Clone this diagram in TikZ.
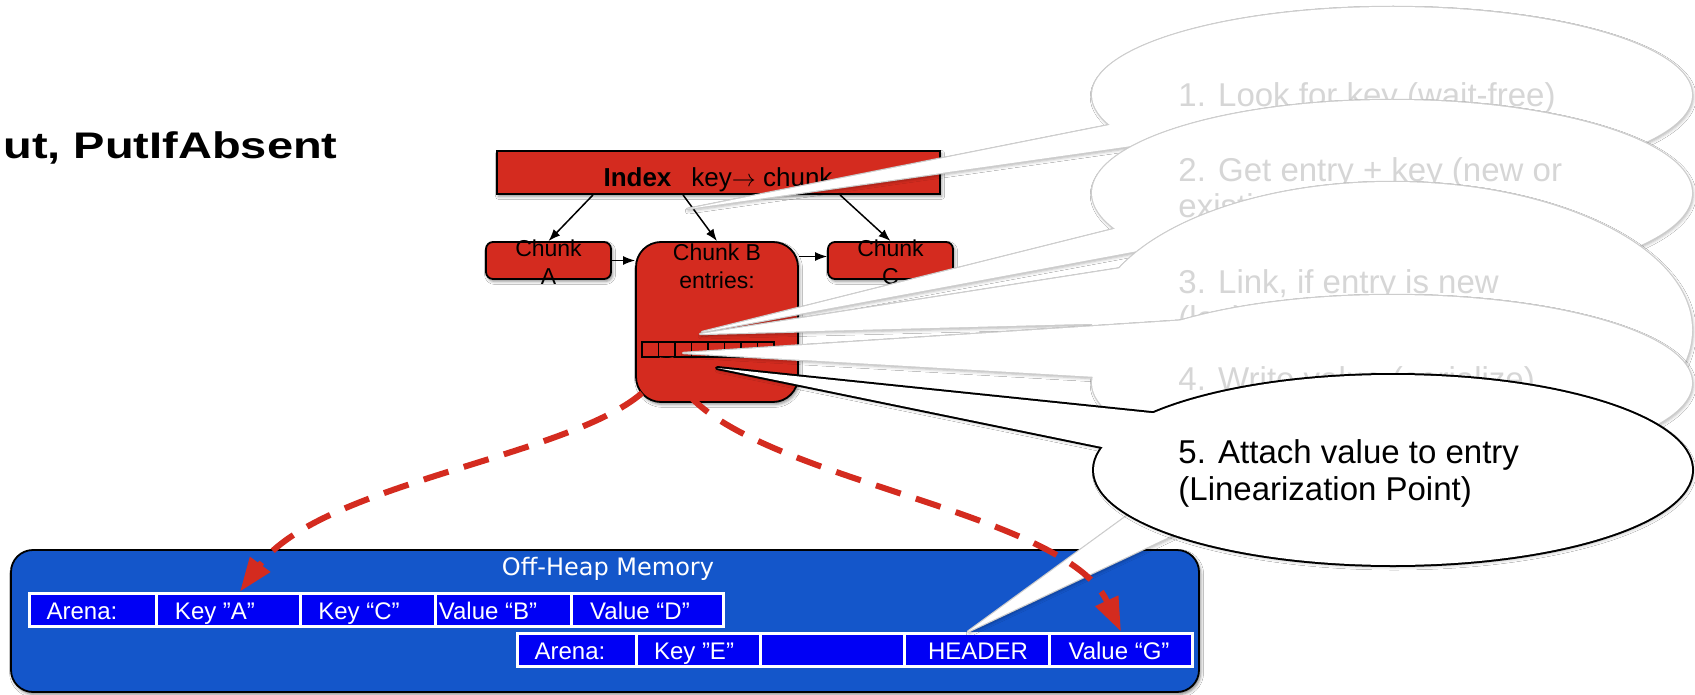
\documentclass[tikz,border=0pt]{standalone}
\usepackage{fontspec}
\usepackage{graphicx}
\setmainfont{Liberation Sans}
\newfontfamily\heapfont{DejaVu Sans}
\usetikzlibrary{arrows.meta,shadows.blur}

\definecolor{chunkred}{RGB}{212,43,31}
\definecolor{heapblue}{RGB}{20,86,202}
\definecolor{cellblue}{RGB}{0,0,245}
\definecolor{fadetext}{RGB}{214,214,214}
\definecolor{fadeline}{RGB}{205,205,205}

% speech balloon: outline style, centre, x radius, y radius, tail tip, two tail base points
\newcommand\calloutballoon[7]{%
  \path[balloonshadow] #2 ellipse [x radius=#3, y radius=#4];
  \path[balloonshadow] #5 -- #6 -- #7 -- cycle;
  \draw[#1, line join=round] #2 ellipse [x radius=#3, y radius=#4];
  \draw[#1, line join=round] #5 -- #6 -- #7 -- cycle;
  \fill[white] #2 ellipse [x radius=#3, y radius=#4];
  \fill[white] #5 -- #6 -- #7 -- cycle;
}

\begin{document}
\begin{tikzpicture}[x=0.5pt, y=-0.5pt,
  txt/.style={inner sep=0pt},
  redbox/.style={draw=black, fill=chunkred, line width=0.9pt, inner sep=0pt,
    blur shadow={shadow xshift=0.8pt, shadow yshift=-1.2pt, shadow blur radius=1.5pt, shadow opacity=45}},
  link/.style={draw=black, line width=0.75pt, -{Latex[length=6pt, width=4.5pt]}},
  entrycell/.style={draw=black, fill=chunkred, line width=0.75pt, minimum width=8.25pt, minimum height=7.5pt, inner sep=0pt},
  rowframe/.style={fill=white, minimum height=18pt, inner sep=0pt},
  heapcell/.style={fill=cellblue, minimum height=15pt, inner sep=0pt},
  celltext/.style={inner sep=0pt, anchor=base, text=white, font=\fontsize{12}{14}\selectfont},
  heapref/.style={draw=chunkred, line width=3pt, dash pattern=on 13pt off 8pt, -{Triangle[length=17pt, width=12pt]}},
  balloonshadow/.style={blur shadow={shadow xshift=0.6pt, shadow yshift=-1pt, shadow blur radius=1.5pt, shadow opacity=30}},
  fadeoutline/.style={draw=fadeline, line width=1.2pt},
  darkoutline/.style={draw=black, line width=2pt},
  fadedtext/.style={inner sep=0pt, anchor=base west, text=fadetext, font=\fontsize{16.5}{19}\selectfont},
  notetext/.style={inner sep=0pt, anchor=base west, text=black, font=\fontsize{16.5}{19}\selectfont},
  chunklabel/.style={inner sep=0pt, align=center, font=\fontsize{11.5}{14}\selectfont},
]
\fill[white] (0,0) rectangle (1695,695);
\useasboundingbox (0,0) rectangle (1695,695);

% heading
\node[txt, anchor=base east, font=\fontsize{18.5}{22}\selectfont\bfseries] (title) at (338,159) {\scalebox{1.27}[1]{ut, PutIfAbsent}};

% index and chunks
\node[redbox, minimum width=221.5pt, minimum height=21.5pt] (index) at (718.5,172.5) {};
\node[txt, anchor=base, font=\fontsize{13}{15}\selectfont] (indexlabel) at (718,187) {\textbf{Index}\hspace{10pt}key$\rightarrow$ chunk};

\node[redbox, rounded corners=3.5pt, minimum width=62.5pt, minimum height=18.5pt] (chunkA) at (548.5,260.5) {};
\node[redbox, rounded corners=12.5pt, minimum width=81pt, minimum height=80pt] (chunkB) at (717,322) {};
\node[redbox, rounded corners=3.5pt, minimum width=62.5pt, minimum height=18.5pt] (chunkC) at (890.5,260.5) {};
\node[chunklabel] (chunkAlabel) at (548.5,262) {Chunk\\A};
\node[chunklabel] (chunkBlabel) at (717,266) {Chunk B\\entries:};
\node[chunklabel] (chunkClabel) at (890.5,262) {Chunk\\C};

\draw[link] ([xshift=-62.75pt]index.south) -- (chunkA.north);
\draw[link] ([xshift=-17.75pt]index.south) -- (chunkB.north);
\draw[link] ([xshift=60.75pt]index.south) -- (chunkC.north);
\draw[link] (chunkA.east) -- (chunkA.east -| chunkB.west);
\coordinate (bcin) at ([yshift=2pt]chunkC.west);
\draw[link] (bcin -| chunkB.east) -- (bcin);

% entry slots of chunk B
\foreach \i in {0,...,7} \node[entrycell] (e\i) at ({650.25+16.5*\i},349.5) {};

% off-heap memory
\node[draw=black, line width=0.9pt, fill=heapblue, rounded corners=11pt, minimum width=594pt, minimum height=71pt, inner sep=0pt,
  blur shadow={shadow xshift=0.8pt, shadow yshift=-1.2pt, shadow blur radius=1.5pt, shadow opacity=50}] (heap) at (605,621) {};
\node[txt, anchor=base, text=white, font=\heapfont\fontsize{12}{14}\selectfont] (heaptitle) at (608,575) {Off-Heap Memory};

% first arena
\node[rowframe, minimum width=348.5pt] (arenaone) at (376.5,610) {};
\node[heapcell, minimum width=62pt] (arenaonehead) at (93,610) {};
\node[heapcell, minimum width=70.5pt] (keyA) at (228.5,610) {};
\node[heapcell, minimum width=66pt] (keyC) at (368,610) {};
\node[heapcell, minimum width=66.5pt] (valB) at (503.5,610) {};
\node[heapcell, minimum width=74.5pt] (valD) at (647.5,610) {};
\node[celltext] at (82,619) {Arena:};
\node[celltext] at (215,619) {Key ”A”};
\node[celltext] at (359,619) {Key “C”};
\node[celltext] at (488,619) {Value “B”};
\node[celltext] at (640,619) {Value “D”};

% second arena
\node[rowframe, minimum width=339pt] (arenatwo) at (855,650) {};
\node[heapcell, minimum width=58pt] (arenatwohead) at (577,650) {};
\node[heapcell, minimum width=60.5pt] (keyE) at (698.5,650) {};
\node[heapcell, minimum width=70.5pt] (blank) at (832.5,650) {};
\node[heapcell, minimum width=71pt] (header) at (977,650) {};
\node[heapcell, minimum width=70pt] (valG) at (1121,650) {};
\node[celltext] at (570,659) {Arena:};
\node[celltext] at (694,659) {Key ”E”};
\node[celltext] at (978,659) {HEADER};
\node[celltext] at (1119,659) {Value “G”};

% tail pointing at the header
\coordinate (t6) at ([xshift=-4.5pt, yshift=1.5pt]header.north);
\path[balloonshadow] (t6) -- (1245,430) -- (1290,480) -- cycle;
\draw[fadeoutline, line join=round] (t6) -- (1245,430) -- (1290,480) -- cycle;
\fill[white] (t6) -- (1245,430) -- (1290,480) -- cycle;

% references into off-heap memory
\draw[heapref] ([xshift=-2pt]e1.south) .. controls (655,450) and (330,470) .. ([xshift=5.75pt, yshift=1.5pt]keyA.north);
\draw[heapref] ([xshift=1.75pt]e1.south) .. controls (685,475) and (1060,500) .. ([yshift=1.5pt]valG.north);

% balloon tips
\coordinate (t1) at (687,209);
\coordinate (t2) at (702,332);
\coordinate (t3) at (700,334);
\coordinate (t4) at (683,353);
\coordinate (t5) at (717,368);

% steps
\calloutballoon{fadeoutline}{(1392,95)}{300}{88}{(t1)}{(1160,115)}{(1160,142)}
\node[fadedtext] (note1) at (1178,107) {1. Look for key (wait-free)};
\calloutballoon{fadeoutline}{(1392,193)}{300}{93}{(t2)}{(1170,215)}{(1170,245)}
\node[fadedtext] (note2a) at (1178,182) {2. Get entry + key (new or};
\node[fadedtext] (note2b) at (1178,218) {existing)};
\calloutballoon{fadeoutline}{(1392,330)}{300}{148}{(t3)}{(1160,262)}{(1160,322)}
\node[fadedtext] (note3a) at (1178,293) {3. Link, if entry is new};
\node[fadedtext] (note3b) at (1178,329) {(lock-free)};
\calloutballoon{fadeoutline}{(1392,383)}{300}{88}{(t4)}{(1220,318)}{(1200,383)}
\node[fadedtext] (note4) at (1178,390) {4. Write value (serialize)};
\calloutballoon{darkoutline}{(1393,470)}{299}{95}{(t5)}{(1180,416)}{(1180,463)}
\node[notetext] (note5a) at (1178,463) {5. Attach value to entry};
\node[notetext] (note5b) at (1178,500) {(Linearization Point)};
\end{tikzpicture}
\end{document}
